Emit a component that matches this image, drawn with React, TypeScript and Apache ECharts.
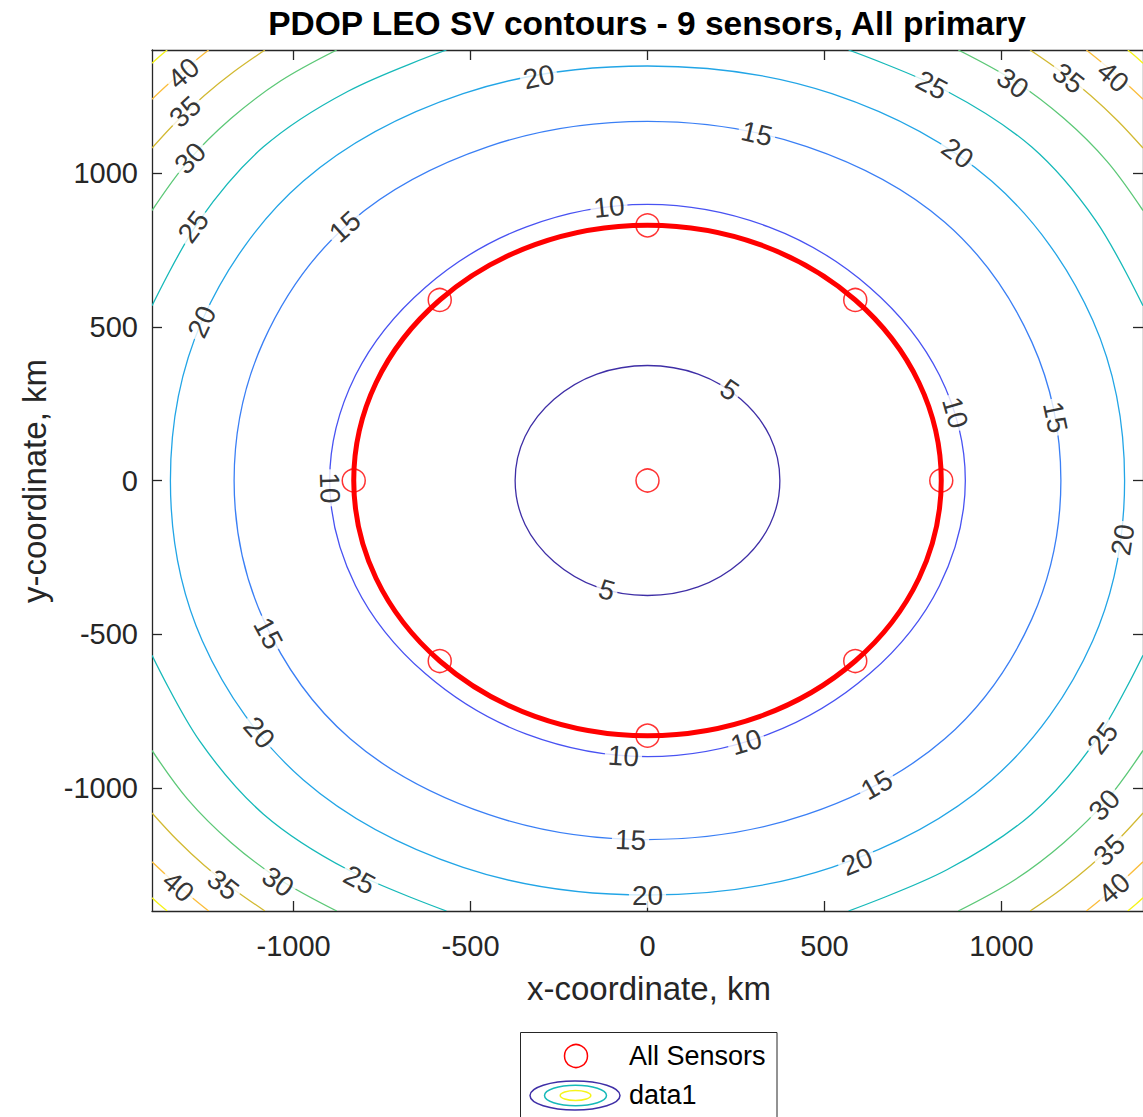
import React, { useEffect, useRef } from "react";
import * as echarts from "echarts";

const titleText = "PDOP LEO SV contours - 9 sensors, All primary";
const xAxisName = "x-coordinate, km";
const yAxisName = "y-coordinate, km";
const xTicks = [-1000, -500, 0, 500, 1000];
const yTicks = [-1000, -500, 0, 500, 1000];
const axisMin = -1400;
const axisMax = 1400;

// sensor positions (km)
const sensorPoints = [
  [0, 0], [830, 0], [587, 587], [0, 830], [-587, 587],
  [-830, 0], [-587, -587], [0, -830], [587, -587],
];
// red ring through the outer sensors (km)
const sensorRing = [
  [830, 0], [767, 318], [587, 587], [318, 767], [0, 830], [-318, 767], [-587, 587], [-767, 318],
  [-830, 0], [-767, -318], [-587, -587], [-318, -767], [0, -830], [318, -767], [587, -587], [767, -318],
];

// contour lines (km)
const contour5 = [[
  [374, 0], [346, 143], [264, 264], [143, 346], [0, 374], [-143, 346], [-264, 264], [-346, 143],
  [-374, 0], [-346, -143], [-264, -264], [-143, -346], [0, -374], [143, -346], [264, -264], [346, -143],
]];
const contour10 = [[
  [898, 0], [825, 342], [628, 628], [342, 825], [0, 898], [-342, 825], [-628, 628], [-825, 342],
  [-898, 0], [-825, -342], [-628, -628], [-342, -825], [0, -898], [342, -825], [628, -628], [825, -342],
]];
const contour15 = [[
  [1168, 0], [1086, 450], [840, 840], [450, 1086], [0, 1168], [-450, 1086], [-840, 840], [-1086, 450],
  [-1168, 0], [-1086, -450], [-840, -840], [-450, -1086], [0, -1168], [450, -1086], [840, -840], [1086, -450],
]];
const contour20 = [[
  [1348, 0], [1258, 521], [973, 973], [521, 1258], [0, 1348], [-521, 1258], [-973, 973], [-1258, 521],
  [-1348, 0], [-1258, -521], [-973, -973], [-521, -1258], [0, -1348], [521, -1258], [973, -973], [1258, -521],
]];
const contour25 = [
  [[-1400, 568], [-1266, 846], [-1085, 1085], [-846, 1266], [-568, 1400]],
  [[568, 1400], [846, 1266], [1085, 1085], [1266, 846], [1400, 568]],
  [[1400, -568], [1266, -846], [1085, -1085], [846, -1266], [568, -1400]],
  [[-568, -1400], [-846, -1266], [-1085, -1085], [-1266, -846], [-1400, -568]],
];
const contour30 = [
  [[-1400, 878], [-1299, 1037], [-1177, 1177], [-1037, 1299], [-878, 1400]],
  [[878, 1400], [1037, 1299], [1177, 1177], [1299, 1037], [1400, 878]],
  [[1400, -878], [1299, -1037], [1177, -1177], [1037, -1299], [878, -1400]],
  [[-878, -1400], [-1037, -1299], [-1177, -1177], [-1299, -1037], [-1400, -878]],
];
const contour35 = [
  [[-1400, 1081], [-1329, 1169], [-1252, 1252], [-1169, 1329], [-1081, 1400]],
  [[1081, 1400], [1169, 1329], [1252, 1252], [1329, 1169], [1400, 1081]],
  [[1400, -1081], [1329, -1169], [1252, -1252], [1169, -1329], [1081, -1400]],
  [[-1081, -1400], [-1169, -1329], [-1252, -1252], [-1329, -1169], [-1400, -1081]],
];
const contour40 = [
  [[-1400, 1240], [-1361, 1282], [-1322, 1322], [-1282, 1361], [-1240, 1400]],
  [[1240, 1400], [1282, 1361], [1322, 1322], [1361, 1282], [1400, 1240]],
  [[1400, -1240], [1361, -1282], [1322, -1322], [1282, -1361], [1240, -1400]],
  [[-1240, -1400], [-1282, -1361], [-1322, -1322], [-1361, -1282], [-1400, -1240]],
];
const contour45 = [
  [[-1400, 1357], [-1379, 1379], [-1357, 1400]],
  [[1357, 1400], [1379, 1379], [1400, 1357]],
  [[1400, -1357], [1379, -1379], [1357, -1400]],
  [[-1357, -1400], [-1379, -1379], [-1400, -1357]],
];

// contour labels: [level, x, y, rotation]
const contourLabels = [
  [5, 232, 294, -34], [5, -115, -356, -16],
  [10, -109, 890, 6], [10, -898, -24, -88], [10, 869, 221, -74], [10, -68, -896, -4], [10, 279, -851, 16],
  [15, -855, 825, 42], [15, -1072, -497, -62], [15, -48, -1169, -2], [15, 648, -990, 30],
  [15, 1152, 206, -78], [15, 309, 1128, -13],
  [20, -307, 1312, 12], [20, -1259, 516, 65], [20, -1097, -820, -49], [20, 0, -1350, 0],
  [20, 592, -1240, 22], [20, 1343, -193, 81], [20, 876, 1064, -36],
  [25, -1283, 825, 53], [25, -814, -1299, -28], [25, 803, 1286, -28], [25, 1286, -838, 53],
  [30, -1292, 1048, 47], [30, -1044, -1305, -35], [30, 1032, 1292, -35], [30, 1291, -1055, 47],
  [35, -1306, 1199, 43], [35, -1199, -1315, -38], [35, 1189, 1308, -38], [35, 1305, -1202, 43],
  [40, -1311, 1324, 41], [40, -1326, -1321, -41], [40, 1315, 1313, -41], [40, 1319, -1326, 41],
];

const closedContours = [contour5, contour10, contour15, contour20];
const closedColors = ["#3e2ea6", "#4852f2", "#3a7ff5", "#22a5e6"];
const cornerContours = [contour25, contour30, contour35, contour40, contour45];
const cornerColors = ["#16b9b9", "#5cc877", "#d2b932", "#fbbd3c", "#f5f419"];

const legendLabels = ["All Sensors", "data1"];

export default function App() {
  const ref = useRef<HTMLDivElement>(null);
  useEffect(() => {
    const el = ref.current as HTMLDivElement;
    const chart = echarts.init(el, undefined, { renderer: "svg" });
    const font = "'Liberation Sans', Arial, Helvetica, sans-serif";
    const axisColor = "#262626";

    const makeContour = (loops: number[][][], color: string, closed: boolean, width: number, z: number) => ({
      type: "custom",
      coordinateSystem: "cartesian2d",
      xAxisIndex: 0,
      yAxisIndex: 0,
      clip: true,
      silent: true,
      z,
      data: loops.map((l) => l[0]),
      renderItem: (params: any, api: any) => {
        const pts = loops[params.dataIndex].map((p) => api.coord(p));
        const cs = params.coordSys;
        return {
          type: closed ? "polygon" : "polyline",
          shape: { points: pts, smooth: 0.34 },
          style: { fill: "none", stroke: color, lineWidth: width },
          clipPath: { type: "rect", shape: { x: cs.x, y: cs.y, width: cs.width, height: cs.height } },
        };
      },
    });

    const mkX = (position: string, showLabel: boolean) => ({
      type: "value",
      min: axisMin,
      max: axisMax,
      position,
      axisLine: { show: true, onZero: false, lineStyle: { color: axisColor, width: 1.3 } },
      axisTick: { show: true, inside: true, length: 10, customValues: xTicks, lineStyle: { color: axisColor, width: 1.3 } },
      axisLabel: {
        show: showLabel,
        customValues: xTicks,
        formatter: (v: number) => String(v),
        fontSize: 29,
        fontFamily: font,
        color: axisColor,
        margin: 20,
      },
      splitLine: { show: false },
    });
    const mkY = (position: string, showLabel: boolean) => ({
      type: "value",
      min: axisMin,
      max: axisMax,
      position,
      axisLine: { show: true, onZero: false, lineStyle: { color: axisColor, width: 1.3 } },
      axisTick: { show: true, inside: true, length: 10, customValues: yTicks, lineStyle: { color: axisColor, width: 1.3 } },
      axisLabel: {
        show: showLabel,
        customValues: yTicks,
        formatter: (v: number) => String(v),
        fontSize: 29,
        fontFamily: font,
        color: axisColor,
        margin: 14,
      },
      splitLine: { show: false },
    });

    const series: any[] = [];
    closedContours.forEach((c, i) => series.push(makeContour(c, closedColors[i], true, 1.3, 2)));
    cornerContours.forEach((c, i) => series.push(makeContour(c, cornerColors[i], false, 1.3, 2)));
    series.push({
      type: "scatter",
      z: 3,
      silent: true,
      symbol: "circle",
      symbolSize: 1,
      itemStyle: { color: "rgba(0,0,0,0)" },
      data: contourLabels.map(([lev, x, y, rot]) => ({ value: [x, y], name: String(lev), label: { rotate: rot } })),
      label: {
        show: true,
        position: "inside",
        formatter: "{b}",
        fontSize: 28,
        fontFamily: font,
        color: "#000",
        backgroundColor: "#fff",
        padding: [0, 3],
        lineHeight: 24,
        align: "center",
        verticalAlign: "middle",
      },
      emphasis: { disabled: true },
    });
    series.push(makeContour([sensorRing], "#ff0000", true, 5, 4));
    series.push({
      type: "scatter",
      z: 5,
      silent: true,
      symbol: "circle",
      symbolSize: 23,
      itemStyle: { color: "rgba(0,0,0,0)", borderColor: "#ff0000", borderWidth: 1.5 },
      data: sensorPoints,
      emphasis: { disabled: true },
    });

    const txt = (text: string, x: number, y: number, size: number, extra: any = {}) => ({
      type: "text",
      x,
      y,
      z: 20,
      silent: true,
      rotation: extra.rotation || 0,
      style: {
        text,
        fontSize: size,
        fontFamily: font,
        fontWeight: extra.bold ? "bold" : "normal",
        fill: extra.color || "#000",
        align: extra.align || "center",
        textAlign: extra.align || "center",
        verticalAlign: "middle",
        textVerticalAlign: "middle",
      },
    });

    chart.setOption({
      animation: false,
      backgroundColor: "#fff",
      grid: { left: 152, top: 50, width: 994, height: 861, show: false },
      xAxis: [mkX("bottom", true), mkX("top", false)],
      yAxis: [mkY("left", true), mkY("right", false)],
      series,
      graphic: [
        txt(titleText, 647, 23, 33.5, { bold: true, color: "#000" }),
        txt(xAxisName, 649, 988, 33, { color: axisColor }),
        txt(yAxisName, 34, 481, 33, { color: axisColor, rotation: Math.PI / 2 }),
        {
          type: "rect",
          z: 19,
          silent: true,
          shape: { x: 520.5, y: 1032.5, width: 256.5, height: 120 },
          style: { fill: "#fff", stroke: axisColor, lineWidth: 1 },
        },
        {
          type: "circle",
          z: 20,
          silent: true,
          shape: { cx: 576, cy: 1056, r: 11.5 },
          style: { fill: "none", stroke: "#ff0000", lineWidth: 1.5 },
        },
        {
          type: "ellipse",
          z: 20,
          silent: true,
          shape: { cx: 575, cy: 1095.5, rx: 45, ry: 14.5 },
          style: { fill: "none", stroke: closedColors[0], lineWidth: 1.5 },
        },
        {
          type: "ellipse",
          z: 20,
          silent: true,
          shape: { cx: 575.5, cy: 1095.5, rx: 31, ry: 10.2 },
          style: { fill: "none", stroke: cornerColors[0], lineWidth: 1.5 },
        },
        {
          type: "ellipse",
          z: 20,
          silent: true,
          shape: { cx: 575.5, cy: 1095.5, rx: 15.3, ry: 5 },
          style: { fill: "none", stroke: cornerColors[4], lineWidth: 1.5 },
        },
        txt(legendLabels[0], 629, 1056, 27, { align: "left" }),
        txt(legendLabels[1], 629, 1095, 27, { align: "left" }),
      ],
    });
    return () => chart.dispose();
  }, []);
  return (
    <div
      ref={ref}
      style={{ position: "fixed", left: 0, top: 0, width: 1143, height: 1117, background: "#fff" }}
    />
  );
}
